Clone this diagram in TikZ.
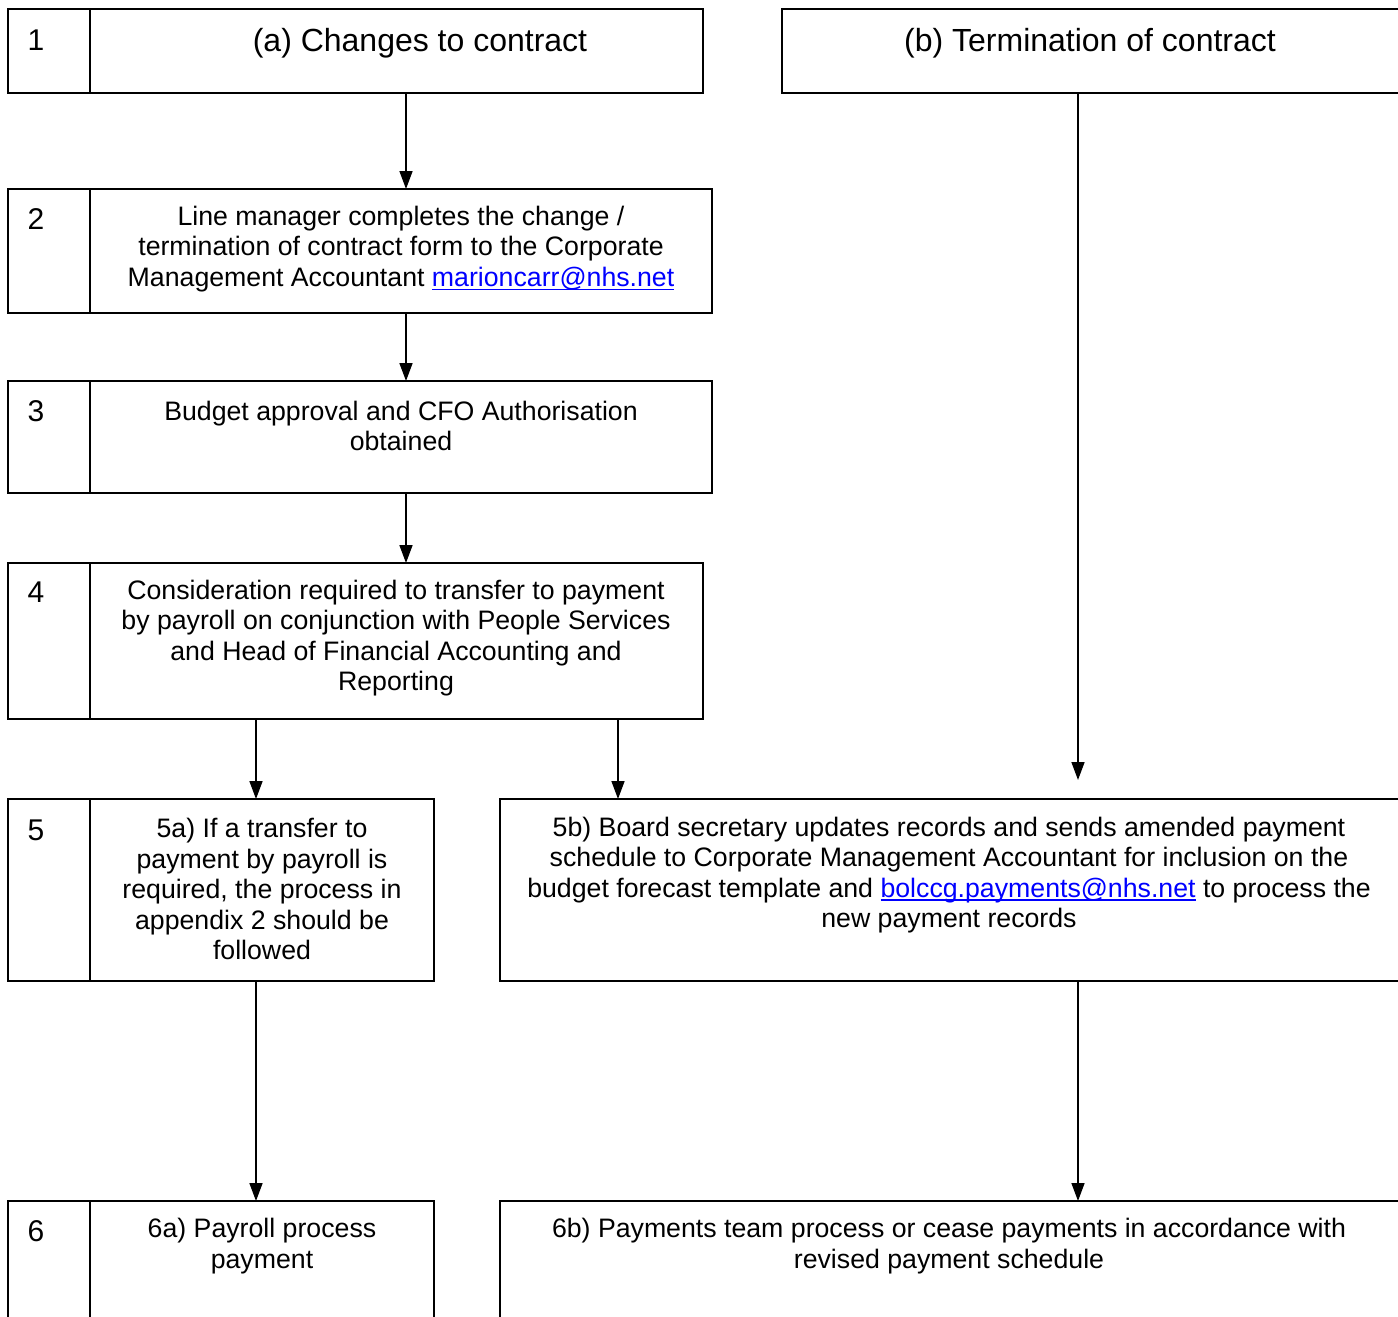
\documentclass[tikz,border=0pt]{standalone}
\usepackage{fontspec}
\setmainfont{Liberation Sans}
\usetikzlibrary{arrows.meta}
\definecolor{lnkblue}{RGB}{0,0,255}
\newcommand{\lnk}[1]{\textcolor{lnkblue}{\setbox0\hbox{#1}\rlap{\rule[-3.5pt]{\wd0}{1.4pt}}\box0}}
\begin{document}
\begin{tikzpicture}[x=1pt,y=-1pt,
  box/.style={draw,line width=1.6pt,rectangle,inner sep=0pt,outer sep=0pt},
  divline/.style={line width=1.6pt},
  txt/.style={align=center,font=\fontsize{26.7}{30.5}\selectfont,inner sep=0pt},
  ttl/.style={font=\fontsize{32}{38}\selectfont,inner sep=0pt},
  num/.style={font=\fontsize{30}{36}\selectfont,inner sep=0pt},
  arr/.style={line width=1.6pt,-{Triangle[length=18pt,width=13pt]}}]
\useasboundingbox (0,0) rectangle (1398,1317);
\clip (0,0) rectangle (1398,1317);
\fill[white] (0,0) rectangle (1398,1317);

% boxes
\node[box,minimum width=695pt,minimum height=84pt]  (b1)  at (355.5,51) {};
\node[box,minimum width=628pt,minimum height=84pt]  (b1b) at (1096,51) {};
\node[box,minimum width=704pt,minimum height=124pt] (b2)  at (360,251) {};
\node[box,minimum width=704pt,minimum height=112pt] (b3)  at (360,437) {};
\node[box,minimum width=695pt,minimum height=156pt] (b4)  at (355.5,641) {};
\node[box,minimum width=426pt,minimum height=182pt] (b5)  at (221,890) {};
\node[box,minimum width=910pt,minimum height=182pt] (b5b) at (955,890) {};
\node[box,minimum width=426pt,minimum height=139pt] (b6)  at (221,1270.5) {};
\node[box,minimum width=910pt,minimum height=139pt] (b6b) at (955,1270.5) {};

% dividers
\foreach \b in {b1,b2,b3,b4,b5,b6}
  \draw[divline] ([xshift=82pt]\b.north west) -- ([xshift=82pt]\b.south west);

% numbers
\node[num] (n1) at (36,40) {1};
\node[num] (n2) at (36,219) {2};
\node[num] (n3) at (36,411) {3};
\node[num] (n4) at (36,592) {4};
\node[num] (n5) at (36,830) {5};
\node[num] (n6) at (36,1231) {6};

% texts
\node[ttl] (t1)  at (420,43) {(a) Changes to contract};
\node[ttl] (t1b) at (1090,43) {(b) Termination of contract};
\node[txt] (t2) at (401,249) {Line manager completes the change /\\termination of contract form to the Corporate\\Management Accountant \lnk{marioncarr@nhs.net}};
\node[txt] (t3) at (401,426) {Budget approval and CFO Authorisation\\obtained};
\node[txt] (t4) at (396,638) {Consideration required to transfer to payment\\by payroll on conjunction with People Services\\and Head of Financial Accounting and\\Reporting};
\node[txt] (t5) at (262,889) {5a) If a transfer to\\payment by payroll is\\required, the process in\\appendix 2 should be\\followed};
\node[txt] (t5b) at (949,875) {5b) Board secretary updates records and sends amended payment\\schedule to Corporate Management Accountant for inclusion on the\\budget forecast template and \lnk{bolccg.payments@nhs.net} to process the\\new payment records};
\node[txt] (t6) at (262,1246) {6a) Payroll process\\payment};
\node[txt] (t6b) at (949,1246) {6b) Payments team process or cease payments in accordance with\\revised payment schedule};

% connectors
\coordinate (xa) at (406,0);
\coordinate (xl) at (256,0);
\coordinate (xm) at (618,0);
\coordinate (xr) at (1078,0);
\coordinate (e1b) at (1078,780);
\draw[arr] (b1.south -| xa) -- (b2.north -| xa);
\draw[arr] (b2.south -| xa) -- (b3.north -| xa);
\draw[arr] (b3.south -| xa) -- (b4.north -| xa);
\draw[arr] (b4.south -| xl) -- (b5.north -| xl);
\draw[arr] (b4.south -| xm) -- (b5b.north -| xm);
\draw[arr] (b1b.south -| xr) -- (e1b);
\draw[arr] (b5.south -| xl) -- (b6.north -| xl);
\draw[arr] (b5b.south -| xr) -- (b6b.north -| xr);
\end{tikzpicture}
\end{document}
